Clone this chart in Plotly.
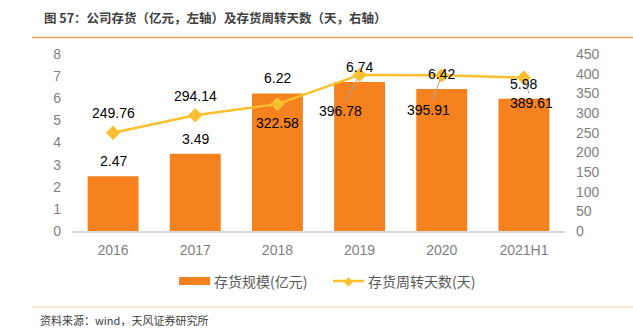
import plotly.graph_objects as go

# ---------------- data ----------------
categories = ["2016", "2017", "2018", "2019", "2020", "2021H1"]
inventory = [2.47, 3.49, 6.22, 6.74, 6.42, 5.98]              # 存货规模(亿元), left axis
turnover_days = [249.76, 294.14, 322.58, 396.78, 395.91, 389.61]  # 存货周转天数(天), right axis
left_ticks = [0, 1, 2, 3, 4, 5, 6, 7, 8]
right_ticks = [0, 50, 100, 150, 200, 250, 300, 350, 400, 450]

title_text = "图 57：公司存货（亿元，左轴）及存货周转天数（天，右轴）"
source_text = "资料来源：wind，天风证券研究所"
bar_name = "存货规模(亿元)"
line_name = "存货周转天数(天)"

# ---------------- styles ----------------
BAR_COLOR = "#F5821F"
LINE_COLOR = "#FAC02E"
TICK_COLOR = "#7F7F7F"
NUM_FONT = "Liberation Sans, Arial, sans-serif"
CJK_FONT = "Noto Sans CJK SC, sans-serif"

# (ax, ay, leader) pixel offsets for the turnover labels
line_label_style = [(0, -20, False), (0, -19, False), (0, 19, False),
                    (-19, 36, True), (-13, 35, True), (8, 25, True)]

fig = go.Figure()
fig.add_trace(go.Bar(
    x=categories, y=inventory, name=bar_name, yaxis="y",
    marker=dict(color=BAR_COLOR, line=dict(width=0)),
    showlegend=False,
))
fig.add_trace(go.Scatter(
    x=categories, y=turnover_days, name=line_name, yaxis="y2",
    mode="lines+markers",
    line=dict(color=LINE_COLOR, width=2.5),
    marker=dict(symbol="diamond", size=11, color=LINE_COLOR),
    showlegend=False,
))

annotations = []
# category axis: annotations use the category serial index
for i, v in enumerate(inventory):
    annotations.append(dict(
        x=i, y=v, xref="x", yref="y", text=f"{v:.2f}", showarrow=False,
        yshift=15, font=dict(family=NUM_FONT, size=14, color="#000000"),
    ))
for i, (v, (ax, ay, leader)) in enumerate(zip(turnover_days, line_label_style)):
    if leader:
        annotations.append(dict(
            x=i, y=v, xref="x", yref="y2", text=f"{v:.2f}", showarrow=True,
            ax=ax, ay=ay, arrowhead=0, arrowwidth=1, arrowcolor="#A6A6A6",
            standoff=4, font=dict(family=NUM_FONT, size=14, color="#000000"),
        ))
    else:
        annotations.append(dict(
            x=i, y=v, xref="x", yref="y2", text=f"{v:.2f}", showarrow=False,
            xshift=ax, yshift=-ay, font=dict(family=NUM_FONT, size=14, color="#000000"),
        ))


def px(p):
    return (p - 72) / 493


def py(p):
    return (231 - p) / 177


# title, source
annotations.append(dict(
    x=px(42), y=py(17), xref="paper", yref="paper", xanchor="left", yanchor="middle",
    text=f"<b>{title_text}</b>", showarrow=False,
    font=dict(family=CJK_FONT, size=12.5, color="#404040"),
))
annotations.append(dict(
    x=px(38), y=py(320), xref="paper", yref="paper", xanchor="left", yanchor="middle",
    text=source_text, showarrow=False,
    font=dict(family=CJK_FONT, size=11, color="#404040"),
))
# manual legend texts
annotations.append(dict(
    x=px(212), y=py(281), xref="paper", yref="paper",
    xanchor="left", yanchor="middle", text=bar_name, showarrow=False,
    font=dict(family=CJK_FONT, size=14, color="#595959"),
))
annotations.append(dict(
    x=px(366), y=py(281), xref="paper", yref="paper",
    xanchor="left", yanchor="middle", text=line_name, showarrow=False,
    font=dict(family=CJK_FONT, size=14, color="#595959"),
))
# legend diamond glyph
annotations.append(dict(
    x=px(348.5), y=py(281), xref="paper", yref="paper",
    xanchor="center", yanchor="middle", text="◆", showarrow=False,
    font=dict(family="DejaVu Sans", size=12, color=LINE_COLOR),
))

shapes = [
    dict(type="line", xref="paper", yref="paper", x0=px(32), x1=px(633), y0=py(37.5), y1=py(37.5),
         line=dict(color="#F4A15A", width=1.5)),
    dict(type="line", xref="paper", yref="paper", x0=px(32), x1=px(633), y0=py(307), y1=py(307),
         line=dict(color="#F8C8A0", width=1.2)),
    dict(type="rect", xref="paper", yref="paper", x0=px(179), x1=px(210), y0=py(285), y1=py(277),
         fillcolor=BAR_COLOR, line=dict(width=0)),
    dict(type="line", xref="paper", yref="paper", x0=px(333), x1=px(364), y0=py(281), y1=py(281),
         line=dict(color=LINE_COLOR, width=2.5)),
]

fig.update_layout(
    width=633, height=329,
    margin=dict(l=72, r=68, t=54, b=98),
    paper_bgcolor="white", plot_bgcolor="white",
    showlegend=False,
    bargap=0.38,
    xaxis=dict(
        type="category", range=[-0.5, len(categories) - 0.5],
        showgrid=False, showline=True, linecolor="#D9D9D9", linewidth=1.5,
        ticks="", tickfont=dict(family=NUM_FONT, size=14, color=TICK_COLOR),
        ticklabelstandoff=5,
    ),
    yaxis=dict(
        range=[0, 8], tickvals=left_ticks, showgrid=False, zeroline=False,
        showline=False, ticks="",
        tickfont=dict(family=NUM_FONT, size=14, color=TICK_COLOR),
        ticklabelstandoff=10,
    ),
    yaxis2=dict(
        range=[0, 450], tickvals=right_ticks, overlaying="y", side="right",
        showgrid=False, zeroline=False, showline=False, ticks="",
        tickfont=dict(family=NUM_FONT, size=14, color=TICK_COLOR),
        ticklabelstandoff=10,
    ),
    annotations=annotations,
    shapes=shapes,
)

fig.write_html("out.html")
